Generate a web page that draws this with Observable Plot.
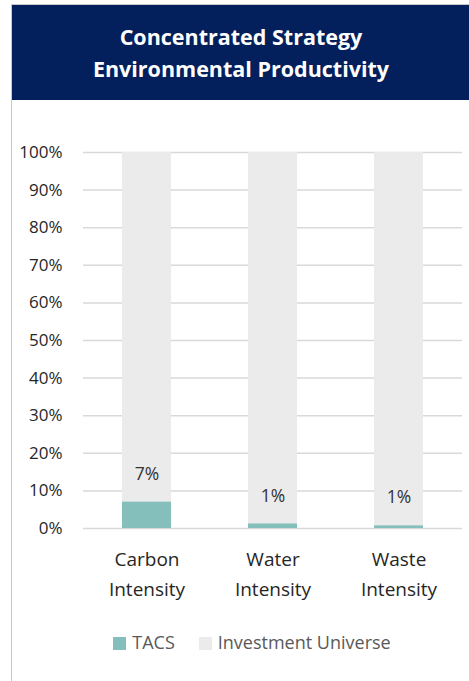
<!DOCTYPE html>
<html>
<head>
<meta charset="utf-8">
<script src="https://cdn.jsdelivr.net/npm/d3@7"></script>
<script src="https://cdn.jsdelivr.net/npm/@observablehq/plot@0.6"></script>
<style>
  body { margin: 0; background: #fff; font-family: "Open Sans", Lato, sans-serif; }
  #frame { position: absolute; left: 11px; top: 4px; width: 458px; height: 677px;
           border-left: 1px solid #c8c8c8; border-top: 1px solid #c8c8c8; }
  #header { background: #04205c; color: #fff; height: 95px; display: flex; align-items: center;
            justify-content: center; text-align: center; font-weight: 700; font-size: 21.5px; line-height: 32px; }
  #legend { display: flex; justify-content: center; align-items: center; gap: 24px; margin-top: 20px;
            padding-left: 22px; font-size: 18px; color: #595959; }
  .sw { display: inline-block; width: 13px; height: 13px; margin-right: 6px; vertical-align: -1px; }
</style>
</head>
<body>
<div id="frame">
  <div id="header">Concentrated Strategy<br>Environmental Productivity</div>
  <div id="chart"></div>
  <div id="legend"></div>
</div>
<script>
const categories = ["Carbon Intensity", "Water Intensity", "Waste Intensity"];
const tacs = [7.0, 1.2, 0.7];
const universe = [100, 100, 100];
const labels = ["7%", "1%", "1%"];
const yTicks = [0, 10, 20, 30, 40, 50, 60, 70, 80, 90, 100];
const seriesNames = ["TACS", "Investment Universe"];
const colors = ["#84bfbb", "#ebebeb"];

const rows = categories.map((c, i) => ({cat: c, tacs: tacs[i], uni: universe[i], label: labels[i]}));

const chart = Plot.plot({
  width: 458,
  height: 510,
  marginTop: 52,
  marginBottom: 82,
  marginLeft: 71,
  marginRight: 8,
  style: {fontFamily: "'Open Sans', Lato, sans-serif", color: "#262626", background: "transparent"},
  x: {domain: categories, paddingInner: 0.61, paddingOuter: 0.305, label: null},
  y: {domain: [0, 100], label: null},
  marks: [
    Plot.ruleY(yTicks, {stroke: "#d9d9d9", strokeWidth: 1.5}),
    Plot.barY(rows, {x: "cat", y: "uni", fill: colors[1]}),
    Plot.barY(rows, {x: "cat", y: "tacs", fill: colors[0]}),
    Plot.text(rows, {x: "cat", y: "tacs", text: "label", dy: -28, fontSize: 17.5, fill: "#333333"}),
    Plot.axisY({ticks: yTicks, tickFormat: d => d + "%", tickSize: 0, tickPadding: 21, fontSize: 17, fill: "#262626"}),
    Plot.axisX({tickSize: 0, tickPadding: 17, fontSize: 19, lineHeight: 1.55, fill: "#262626",
      tickFormat: d => d.replace(" ", "\n")})
  ]
});
document.getElementById("chart").appendChild(chart);

const legend = document.getElementById("legend");
seriesNames.forEach((n, i) => {
  const s = document.createElement("span");
  s.innerHTML = `<span class="sw" style="background:${colors[i]}"></span>${n}`;
  legend.appendChild(s);
});
</script>
</body>
</html>
